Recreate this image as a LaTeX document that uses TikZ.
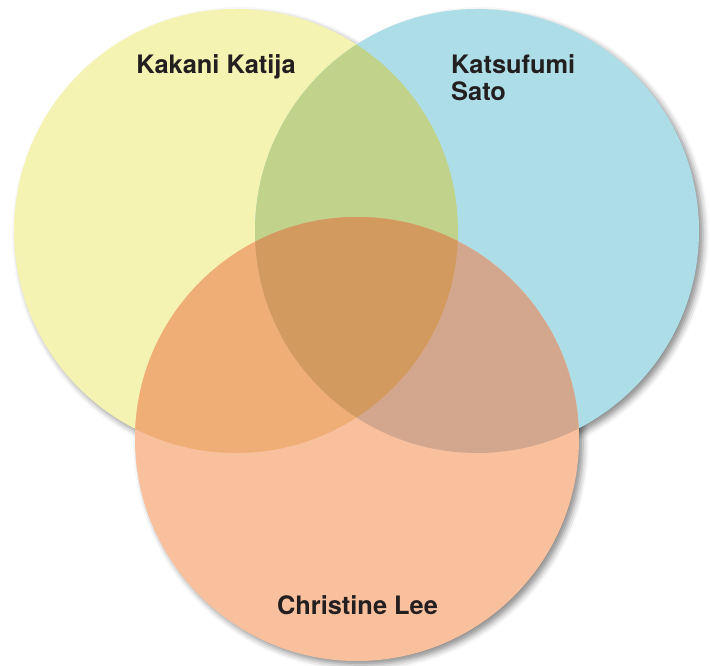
\documentclass[tikz,border=0pt]{standalone}
\usepackage{fontspec}
\setmainfont{TeX Gyre Heros}
\usetikzlibrary{shadows.blur}
\definecolor{katija-yellow}{HTML}{F5F3B1}
\definecolor{sato-blue}{HTML}{ADDEE7}
\definecolor{lee-orange}{HTML}{F9C09E}
\definecolor{katija-sato}{HTML}{C1D38B}
\definecolor{katija-lee}{HTML}{EEAE76}
\definecolor{sato-lee}{HTML}{D3A78E}
\definecolor{all-three}{HTML}{D39A60}
\definecolor{ink}{HTML}{231F20}
\newcommand{\vennpart}[3]{%
\begin{scope}
\clip (#1.center) circle (222pt);
\fill[#3] (#2.center) circle (222pt);
\end{scope}
}
\tikzset{
  venn/.style={circle, minimum size=444pt, inner sep=0pt, draw=none},
  soft shadow/.style={blur shadow={shadow xshift=4pt, shadow yshift=-4pt, shadow blur radius=6pt, shadow opacity=45}},
  person/.style={font=\fontsize{25.4}{27}\selectfont\bfseries, text=ink, inner sep=0pt, align=left}
}

\begin{document}
\begin{tikzpicture}[x=1pt, y=1pt]
\useasboundingbox (0,0) rectangle (710,666);
% shadows first, under all three circles
\foreach \x/\y in {236/435, 477/435, 357/227}
  \path[soft shadow] (\x,\y) circle (222pt);
% circles
\node[venn, fill=katija-yellow] (katija) at (236,435) {};
\node[venn, fill=sato-blue] (sato) at (477,435) {};
\node[venn, fill=lee-orange] (lee) at (357,227) {};
% overlaps
\vennpart{katija}{sato}{katija-sato}
\vennpart{katija}{lee}{katija-lee}
\vennpart{sato}{lee}{sato-lee}
\begin{scope}
\clip (katija.center) circle (222pt);
\clip (sato.center) circle (222pt);
\fill[all-three] (lee.center) circle (222pt);
\end{scope}
% names
\node[person, anchor=base] (katija-name) at (216,592) {Kakani Katija};
\node[person, anchor=north west] (sato-name) at (451,612) {Katsufumi\\Sato};
\node[person, anchor=base] (lee-name) at (357.5,51) {Christine Lee};
\end{tikzpicture}
\end{document}
